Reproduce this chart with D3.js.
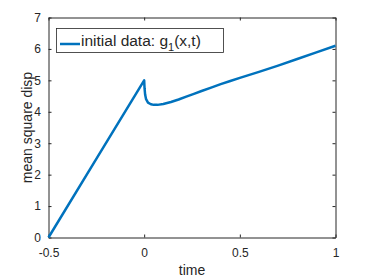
<!DOCTYPE html>
<html>
<head>
<meta charset="utf-8">
<script src="https://cdn.jsdelivr.net/npm/d3@7"></script>
<style>
  body { margin: 0; background: #fff; }
  text { font-family: "Liberation Sans", Arial, sans-serif; fill: #262626; }
</style>
</head>
<body>
<svg id="chart" width="371" height="278"></svg>
<script>
// values
var timeVals = [-0.5, -0.25, 0, 0.002, 0.005, 0.01, 0.02, 0.035, 0.05, 0.07, 0.1, 0.14, 0.18, 0.22, 0.26, 0.3, 0.35, 0.4, 0.45, 0.5, 0.6, 0.7, 0.8, 0.9, 1.0];
var msdVals  = [0, 2.5, 5.0, 4.75, 4.55, 4.4, 4.29, 4.24, 4.22, 4.22, 4.25, 4.31, 4.39, 4.48, 4.57, 4.66, 4.77, 4.88, 4.98, 5.08, 5.27, 5.47, 5.68, 5.89, 6.1];
var xTicks = [-0.5, 0, 0.5, 1];
var yTicks = [0, 1, 2, 3, 4, 5, 6, 7];

const svg = d3.select("#chart");
const m = {left: 48.5, right: 335.5, top: 17.5, bottom: 237.5};

const x = d3.scaleLinear().domain([-0.5, 1]).range([m.left, m.right]);
const y = d3.scaleLinear().domain([0, 7]).range([m.bottom, m.top]);

const axisColor = "#262626";

// axes, ticks inside, box on
svg.append("g")
    .attr("transform", `translate(0,${m.bottom})`)
    .call(d3.axisBottom(x).tickValues(xTicks).tickSizeInner(-3).tickSizeOuter(0).tickPadding(10.5)
      .tickFormat(d => String(d)))
    .call(g => g.select(".domain").attr("stroke", axisColor));
svg.append("g")
    .attr("transform", `translate(0,${m.top})`)
    .call(d3.axisTop(x).tickValues(xTicks).tickSizeInner(-3).tickSizeOuter(0).tickFormat(""))
    .call(g => g.select(".domain").attr("stroke", axisColor));
svg.append("g")
    .attr("transform", `translate(${m.left},0)`)
    .call(d3.axisLeft(y).tickValues(yTicks).tickSizeInner(-3).tickSizeOuter(0).tickPadding(7.5)
      .tickFormat(d => String(d)))
    .call(g => g.select(".domain").attr("stroke", axisColor));
svg.append("g")
    .attr("transform", `translate(${m.right},0)`)
    .call(d3.axisRight(y).tickValues(yTicks).tickSizeInner(-3).tickSizeOuter(0).tickFormat(""))
    .call(g => g.select(".domain").attr("stroke", axisColor));

svg.selectAll(".tick line").attr("stroke", axisColor);
svg.selectAll(".tick text")
    .style("font-size", "12px")
    .style("font-family", "'Liberation Sans', Arial, sans-serif")
    .attr("fill", axisColor);

// axis titles
svg.append("text")
    .attr("x", (m.left + m.right) / 2)
    .attr("y", 275)
    .attr("text-anchor", "middle")
    .style("font-size", "14px")
    .text("time");
svg.append("text")
    .attr("transform", `translate(27,${(m.top + m.bottom) / 2}) rotate(-90)`)
    .attr("text-anchor", "middle")
    .attr("dy", "0.35em")
    .style("font-size", "14px")
    .text("mean square disp");

// data line
const line = d3.line()
    .x((d, i) => x(timeVals[i]))
    .y(d => y(d));

svg.append("path")
    .datum(msdVals)
    .attr("fill", "none")
    .attr("stroke", "#0072BD")
    .attr("stroke-width", 2.5)
    .attr("stroke-linejoin", "round")
    .attr("d", line);

// legend
const leg = svg.append("g");
leg.append("rect")
    .attr("x", 56.5).attr("y", 28.5)
    .attr("width", 167).attr("height", 24)
    .attr("fill", "#fff")
    .attr("stroke", axisColor)
    .attr("stroke-width", 0.8);
leg.append("line")
    .attr("x1", 60).attr("x2", 80)
    .attr("y1", 44).attr("y2", 44)
    .attr("stroke", "#0072BD")
    .attr("stroke-width", 2.5);
const lt = leg.append("text")
    .attr("x", 81).attr("y", 46)
    .style("font-size", "15.5px")
    .attr("fill", "#000");
lt.append("tspan").text("initial data: g");
lt.append("tspan").attr("dy", 5).style("font-size", "11px").text("1");
lt.append("tspan").attr("dy", -5).text("(x,t)");
</script>
</body>
</html>
